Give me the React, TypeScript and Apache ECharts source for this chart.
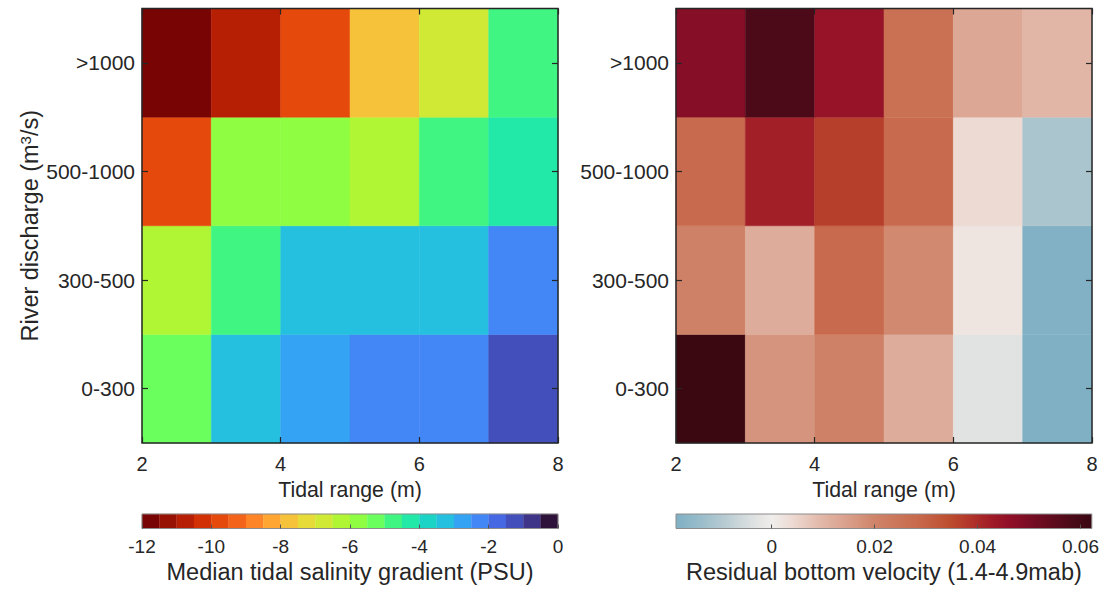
import React, { useEffect, useRef } from "react";
import * as echarts from "echarts";

// ---------- data ----------
const DISCHARGE = ["0-300", "300-500", "500-1000", ">1000"];
const TIDAL_EDGES = [2, 3, 4, 5, 6, 7, 8];

// rows: bottom (0-300) to top (>1000), columns: tidal range bins 2-3 ... 7-8
const SALINITY_GRADIENT = [
  [-5.3, -3.3, -2.8, -2.3, -2.2, -1.3],
  [-6.3, -4.8, -3.2, -3.3, -3.2, -2.3],
  [-9.8, -5.7, -5.8, -6.2, -4.7, -4.3],
  [-11.8, -10.8, -9.7, -7.8, -6.8, -4.8],
];

const BOTTOM_VELOCITY = [
  [0.062, 0.017, 0.021, 0.012, -0.003, -0.0186],
  [0.021, 0.012, 0.028, 0.019, 0.002, -0.018],
  [0.028, 0.042, 0.037, 0.028, 0.004, -0.011],
  [0.048, 0.058, 0.045, 0.026, 0.013, 0.01],
];

const SAL_MIN = -12;
const SAL_MAX = 0;
const SAL_STEP = 0.5;
const SAL_TICK = 2;
const VEL_MIN = -0.0186;
const VEL_MAX = 0.0622;
const VEL_TICKS = [0, 0.02, 0.04, 0.06];

// ---------- colour maps ----------
const TURBO_24 = [
  "#780503", "#981204", "#b71f05", "#d23105", "#e5490c", "#f4631a",
  "#fd8427", "#fea631", "#f6c23a", "#e6db39", "#cfe935", "#b0f635",
  "#8ffd41", "#6bff5e", "#41f582", "#22e8a8", "#1bd4c5", "#25c0df",
  "#35a3f3", "#4387f6", "#4669e3", "#4350bb", "#3e3488", "#2f123a",
];

const DIV_STOPS: [number, string][] = [
  [-0.0186, "#7fb0c4"],
  [-0.014, "#98bcca"],
  [-0.0091, "#b8cbd2"],
  [-0.0042, "#dadfe0"],
  [-0.002, "#e6e6e5"],
  [0, "#efeeec"],
  [0.0036, "#eedcd6"],
  [0.0094, "#e2b9aa"],
  [0.015, "#d99e89"],
  [0.02, "#cf8469"],
  [0.029, "#c7674a"],
  [0.0347, "#bd4d2e"],
  [0.0385, "#b2352a"],
  [0.0424, "#a11c27"],
  [0.0463, "#900f28"],
  [0.052, "#6e0c22"],
  [0.058, "#4c0a18"],
  [0.0622, "#3a0812"],
];

function hexToRgb(h: string) {
  const n = parseInt(h.slice(1), 16);
  return [(n >> 16) & 255, (n >> 8) & 255, n & 255];
}
function divColor(v: number) {
  if (v <= DIV_STOPS[0][0]) return DIV_STOPS[0][1];
  for (let i = 1; i < DIV_STOPS.length; i++) {
    const [v1, c1] = DIV_STOPS[i];
    const [v0, c0] = DIV_STOPS[i - 1];
    if (v <= v1) {
      const t = (v - v0) / (v1 - v0);
      const a = hexToRgb(c0);
      const b = hexToRgb(c1);
      const m = a.map((x, j) => Math.round(x + (b[j] - x) * t));
      return `rgb(${m[0]},${m[1]},${m[2]})`;
    }
  }
  return DIV_STOPS[DIV_STOPS.length - 1][1];
}
const N_SAMPLES = 161;
const DIV_SAMPLED: string[] = [];
for (let i = 0; i < N_SAMPLES; i++) {
  DIV_SAMPLED.push(divColor(VEL_MIN + ((VEL_MAX - VEL_MIN) * i) / (N_SAMPLES - 1)));
}

// ---------- helpers ----------
const FONT = "'Liberation Sans', Arial, Helvetica, sans-serif";
const INK = "#262626";

function cellData(values: number[][]) {
  const out: number[][] = [];
  values.forEach((row, r) =>
    row.forEach((v, c) => out.push([TIDAL_EDGES[c], TIDAL_EDGES[c + 1], r, v]))
  );
  return out;
}

const cellRender = (_p: any, api: any) => {
  const x0 = api.value(0);
  const x1 = api.value(1);
  const yi = api.value(2);
  const a = api.coord([x0, yi]);
  const b = api.coord([x1, yi]);
  const h = api.size([0, 1])[1];
  const col = api.visual("color");
  return {
    type: "rect",
    shape: { x: a[0], y: a[1] - h / 2, width: b[0] - a[0], height: h },
    style: { fill: col, stroke: col, lineWidth: 0.5 },
  };
};

const barRender = (_p: any, api: any) => {
  const a = api.coord([api.value(0), 0]);
  const b = api.coord([api.value(1), 1]);
  return {
    type: "rect",
    shape: { x: a[0], y: b[1], width: b[0] - a[0], height: a[1] - b[1] },
    style: { fill: api.visual("color"), stroke: api.visual("color"), lineWidth: 0.3 },
  };
};

const gradRender = (_p: any, api: any) => {
  const a = api.coord([api.value(0), 0]);
  const b = api.coord([api.value(1), 1]);
  const stops = DIV_SAMPLED.map((c, i) => ({ offset: i / (N_SAMPLES - 1), color: c }));
  return {
    type: "rect",
    shape: { x: a[0], y: b[1], width: b[0] - a[0], height: a[1] - b[1] },
    style: { fill: new echarts.graphic.LinearGradient(0, 0, 1, 0, stops) },
  };
};

export default function App() {
  const ref = useRef<HTMLDivElement>(null);

  useEffect(() => {
    document.body.style.margin = "0";
    if (!ref.current) return;
    const chart = echarts.init(ref.current, undefined, { renderer: "svg" });

    const PLOT_TOP = 8.5;
    const PLOT_H = 434.5;
    const PLOT_W = 416;
    const LEFT1 = 142;
    const LEFT2 = 676;
    const CB_TOP = 514;
    const CB_H = 14.5;

    const plotGrid = (left: number) => ({
      left, top: PLOT_TOP, width: PLOT_W, height: PLOT_H,
      show: true, borderColor: INK, borderWidth: 1.5,
      backgroundColor: "transparent", z: 10,
    });
    const cbGrid = (left: number) => ({
      left, top: CB_TOP, width: PLOT_W, height: CB_H,
      show: true, borderColor: "#8c8c8c", borderWidth: 1,
      backgroundColor: "transparent", z: 10,
    });

    const tick = { show: true, inside: true, length: 6, lineStyle: { color: INK, width: 1.2 } };

    const xBottom = (gridIndex: number) => ({
      type: "value", gridIndex, min: 2, max: 8, interval: 2, position: "bottom",
      axisLine: { show: false }, splitLine: { show: false }, axisTick: tick,
      axisLabel: { fontSize: 20, color: INK, margin: 11, fontFamily: FONT },
      name: "Tidal range (m)", nameLocation: "middle", nameGap: 36,
      nameTextStyle: { fontSize: 21.3, color: INK, fontFamily: FONT },
      z: 11,
    });
    const xTop = (gridIndex: number) => ({
      type: "value", gridIndex, min: 2, max: 8, interval: 2, position: "top",
      axisLine: { show: false }, splitLine: { show: false }, axisTick: tick,
      axisLabel: { show: false }, z: 11,
    });
    const yLeft = (gridIndex: number, withName: boolean) => ({
      type: "category", gridIndex, data: DISCHARGE, position: "left",
      axisLine: { show: false }, splitLine: { show: false },
      axisTick: { ...tick, alignWithLabel: true },
      axisLabel: { fontSize: 21, color: INK, margin: 7, fontFamily: FONT },
      ...(withName
        ? {
            name: "River discharge (m{sup|3}/s)", nameLocation: "middle", nameGap: 100,
            nameTextStyle: {
              fontSize: 23.5, color: INK, fontFamily: FONT,
              rich: {
                sup: {
                  fontSize: 15, color: INK, fontFamily: FONT,
                  verticalAlign: "top", lineHeight: 14, padding: [0, 0, 8, 0],
                },
              },
            },
          }
        : {}),
      z: 11,
    });
    const yRight = (gridIndex: number) => ({
      type: "category", gridIndex, data: DISCHARGE, position: "right",
      axisLine: { show: false }, splitLine: { show: false },
      axisTick: { ...tick, alignWithLabel: true },
      axisLabel: { show: false }, z: 11,
    });

    const cbTick = { show: true, inside: true, length: 4, lineStyle: { color: "#555", width: 1 } };

    const salPieces: any[] = [];
    const salBar: number[][] = [];
    const nLevels = Math.round((SAL_MAX - SAL_MIN) / SAL_STEP);
    for (let k = 0; k < nLevels; k++) {
      const lo = SAL_MIN + k * SAL_STEP;
      const hi = lo + SAL_STEP;
      salPieces.push({ gte: lo, lt: hi, color: TURBO_24[k] });
      salBar.push([lo, hi, 0, (lo + hi) / 2]);
    }

    chart.setOption({
      animation: false,
      backgroundColor: "#ffffff",
      grid: [plotGrid(LEFT1), plotGrid(LEFT2), cbGrid(LEFT1), cbGrid(LEFT2)],
      xAxis: [
        xBottom(0), xTop(0), xBottom(1), xTop(1),
        {
          type: "value", gridIndex: 2, min: SAL_MIN, max: SAL_MAX, interval: SAL_TICK,
          axisLine: { show: false }, splitLine: { show: false }, axisTick: cbTick,
          axisLabel: { fontSize: 19, color: INK, margin: 8, fontFamily: FONT },
          name: "Median tidal salinity gradient (PSU)", nameLocation: "middle", nameGap: 31,
          nameTextStyle: { fontSize: 23.5, color: INK, fontFamily: FONT }, z: 11,
        },
        {
          type: "value", gridIndex: 3, min: VEL_MIN, max: VEL_MAX,
          axisLine: { show: false }, splitLine: { show: false },
          axisTick: { ...cbTick, customValues: VEL_TICKS },
          axisLabel: {
            fontSize: 19, color: INK, margin: 8, fontFamily: FONT,
            customValues: VEL_TICKS, formatter: (v: number) => String(v),
          },
          name: "Residual bottom velocity (1.4-4.9mab)", nameLocation: "middle", nameGap: 31,
          nameTextStyle: { fontSize: 23.5, color: INK, fontFamily: FONT }, z: 11,
        },
      ],
      yAxis: [
        yLeft(0, true), yRight(0), yLeft(1, false), yRight(1),
        { type: "value", gridIndex: 2, min: 0, max: 1, show: false },
        { type: "value", gridIndex: 3, min: 0, max: 1, show: false },
      ],
      visualMap: [
        {
          type: "piecewise", show: false, seriesIndex: [0, 2], dimension: 3,
          pieces: salPieces,
        },
        {
          type: "continuous", show: false, seriesIndex: [1], dimension: 3,
          min: VEL_MIN, max: VEL_MAX, inRange: { color: DIV_SAMPLED },
        },
      ],
      series: [
        {
          type: "custom", xAxisIndex: 0, yAxisIndex: 0, renderItem: cellRender,
          encode: { x: [0, 1], y: 2 }, data: cellData(SALINITY_GRADIENT),
        },
        {
          type: "custom", xAxisIndex: 2, yAxisIndex: 2, renderItem: cellRender,
          encode: { x: [0, 1], y: 2 }, data: cellData(BOTTOM_VELOCITY),
        },
        {
          type: "custom", xAxisIndex: 4, yAxisIndex: 4, renderItem: barRender,
          encode: { x: [0, 1], y: 2 }, data: salBar,
        },
        {
          type: "custom", xAxisIndex: 5, yAxisIndex: 5, renderItem: gradRender,
          encode: { x: [0, 1], y: 2 }, data: [[VEL_MIN, VEL_MAX, 0, 0]],
        },
      ],
    });

    return () => chart.dispose();
  }, []);

  return <div ref={ref} style={{ width: 1102, height: 592 }} />;
}
